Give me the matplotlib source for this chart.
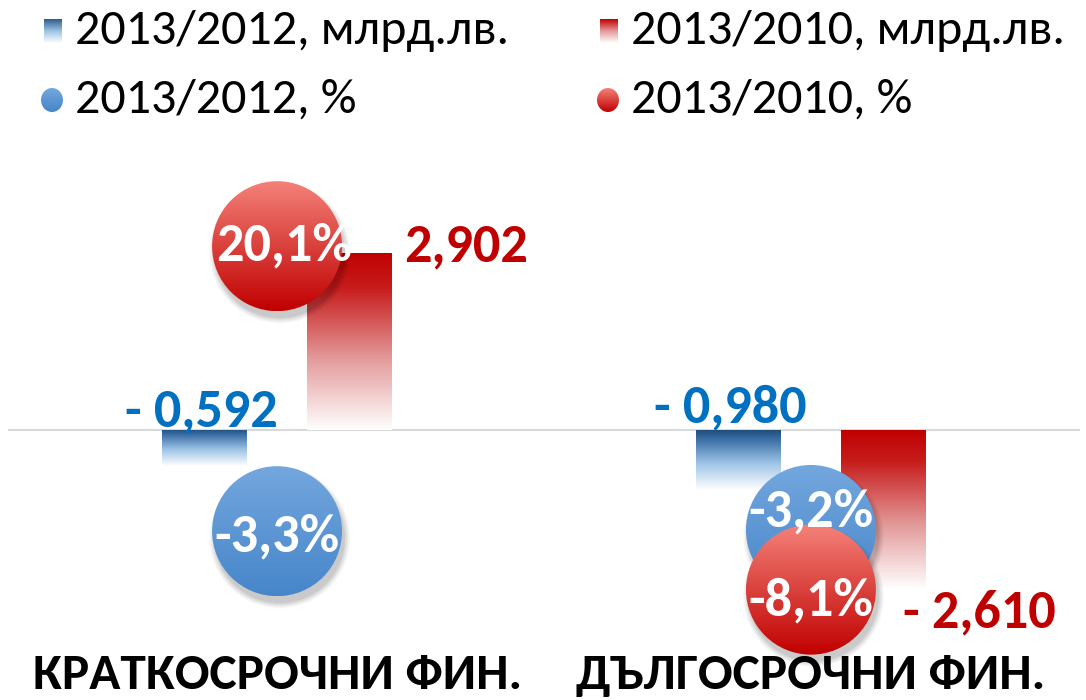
import numpy as np
import matplotlib
matplotlib.use("Agg")
import matplotlib.pyplot as plt
from matplotlib.colors import LinearSegmentedColormap
from matplotlib.patches import Ellipse, Rectangle

# ---------------- data ----------------
categories = ["КРАТКОСРОЧНИ ФИН.", "ДЪЛГОСРОЧНИ ФИН."]
series_bars = ["2013/2012, млрд.лв.", "2013/2010, млрд.лв."]
series_pct = ["2013/2012, %", "2013/2010, %"]
change_2012_bn = [-0.592, -0.980]
change_2010_bn = [2.902, -2.610]
change_2012_pct = [-3.3, -3.2]
change_2010_pct = [20.1, -8.1]

FONT = "Carlito"
plt.rcParams["font.family"] = [FONT, "DejaVu Sans"]

W, H = 1086, 700
fig = plt.figure(figsize=(W / 100, H / 100), dpi=100)

# main axes (bars)
ax = fig.add_axes([8 / W, 0, (1080 - 8) / W, 1])
ax.set_xlim(-0.504, 1.504)
ax.set_ylim(-4.426, 7.049)
ax.axis("off")
# secondary axes (bubbles, %)
ax2 = ax.twinx()
ax2.set_ylim(-17.16, 40.31)
ax2.axis("off")

ax.axhline(0, color="#D9D9D9", lw=1.5, zorder=1)

blue_bar_cmap = LinearSegmentedColormap.from_list(
    "bb", [(0, "#1F4E79"), (0.15, "#3A6EA5"), (0.55, "#9DC3E6"), (1, "#FFFFFF")])
red_bar_cmap = LinearSegmentedColormap.from_list(
    "rb", [(0, "#C00000"), (0.2, "#C71C1C"), (0.6, "#E39A9A"), (1, "#FFFFFF")])
blue_bub_cmap = LinearSegmentedColormap.from_list("bbub", ["#74A7DE", "#4686C9"])
red_bub_cmap = LinearSegmentedColormap.from_list("rbub", ["#F4837A", "#C00000"])

grad = np.linspace(0, 1, 256).reshape(-1, 1)

x = np.arange(len(categories))
bw = 0.159
off = 0.136


def gradient_bar(axis, xc, val, cmap, z=2):
    y0, y1 = min(0, val), max(0, val)
    rect = Rectangle((xc - bw / 2, y0), bw, y1 - y0, facecolor="none", edgecolor="none")
    axis.add_patch(rect)
    im = axis.imshow(grad, cmap=cmap, extent=[xc - bw / 2, xc + bw / 2, y0, y1],
                     origin="upper", aspect="auto", interpolation="bicubic", zorder=z)
    im.set_clip_path(rect)
    return rect


def fmt_bn(v):
    s = f"{abs(v):.3f}".replace(".", ",")
    return ("- " + s) if v < 0 else s


def fmt_pct(v):
    return f"{v:.1f}".replace(".", ",") + "%"


for i in x:
    gradient_bar(ax, i - off, change_2012_bn[i], blue_bar_cmap)
    gradient_bar(ax, i + off, change_2010_bn[i], red_bar_cmap)

# bar labels
blue_lbl_off = [(-2, 13), (-6, 16)]
for i in x:
    ax.annotate(fmt_bn(change_2012_bn[i]), (i - off, 0), xytext=blue_lbl_off[i],
                textcoords="offset points", ha="center", va="center",
                color="#0070C0", fontsize=39, fontweight="bold", zorder=6)
ax.annotate(fmt_bn(change_2010_bn[0]), (0 + off + bw / 2, change_2010_bn[0]),
            xytext=(9, 4), textcoords="offset points", ha="left", va="center",
            color="#C00000", fontsize=39, fontweight="bold", zorder=6)
ax.annotate(fmt_bn(change_2010_bn[1]), (1 + off, change_2010_bn[1]),
            xytext=(69, -17), textcoords="offset points", ha="center", va="center",
            color="#C00000", fontsize=39, fontweight="bold", zorder=6)

# bubbles
bub_w = 130 / 534
bub_h = 130 / 12.18


def bubble(axis, xc, yc, cmap, z):
    for k, a in enumerate([0.04, 0.05, 0.06, 0.07]):
        s = 1.08 - 0.025 * k
        sh = Ellipse((xc + 0.005, yc - 0.55), bub_w * s, bub_h * s,
                     facecolor="black", edgecolor="none", alpha=a, zorder=z - 0.5)
        axis.add_patch(sh)
    e = Ellipse((xc, yc), bub_w, bub_h, facecolor="none", edgecolor="none")
    axis.add_patch(e)
    im = axis.imshow(grad, cmap=cmap,
                     extent=[xc - bub_w / 2, xc + bub_w / 2, yc - bub_h / 2, yc + bub_h / 2],
                     origin="upper", aspect="auto", interpolation="bicubic", zorder=z)
    im.set_clip_path(e)


pct_lbl_off_2012 = [(0, -4), (0, 13)]
pct_lbl_off_2010 = [(5, 0), (0, -8)]
for i in x:
    bubble(ax2, i, change_2012_pct[i], blue_bub_cmap, 4)
for i in x:
    bubble(ax2, i, change_2010_pct[i], red_bub_cmap, 5)
for i in x:
    ax2.annotate(fmt_pct(change_2012_pct[i]), (i, change_2012_pct[i]), xytext=pct_lbl_off_2012[i],
                 textcoords="offset points", ha="center", va="center", color="white",
                 fontsize=39, fontweight="bold", zorder=7)
    ax2.annotate(fmt_pct(change_2010_pct[i]), (i, change_2010_pct[i]), xytext=pct_lbl_off_2010[i],
                 textcoords="offset points", ha="center", va="center", color="white",
                 fontsize=39, fontweight="bold", zorder=8)
ax2.set_xlim(-0.504, 1.504)

# category labels
for i in x:
    ax.annotate(categories[i], (i, 0.036), xycoords=("data", "axes fraction"),
                ha="center", va="center", fontsize=37, fontweight="bold", color="black")

# legend (drawn on an overlay in pixel coordinates)
lg = fig.add_axes([0, 0, 1, 1], zorder=10)
lg.set_xlim(0, W)
lg.set_ylim(H, 0)
lg.axis("off")
lg.patch.set_alpha(0)
leg_sq = LinearSegmentedColormap.from_list("lsq", ["#2E5C8A", "#9DC3E6", "#FFFFFF"])
leg_sr = LinearSegmentedColormap.from_list("lsr", ["#C00000", "#E39A9A", "#FFFFFF"])
items = [
    (series_bars[0], "sq", leg_sq, 40, 31),
    (series_bars[1], "sq", leg_sr, 596, 31),
    (series_pct[0], "ci", blue_bub_cmap, 40, 100),
    (series_pct[1], "ci", red_bub_cmap, 596, 100),
]
for label, kind, cm, x0, yc in items:
    if kind == "sq":
        r = Rectangle((x0 + 4, yc - 12), 18, 24, facecolor="none", edgecolor="none")
        lg.add_patch(r)
        im = lg.imshow(grad, cmap=cm, extent=[x0 + 4, x0 + 22, yc + 12, yc - 12],
                       origin="upper", aspect="auto", zorder=3)
        im.set_clip_path(r)
    else:
        c = Ellipse((x0 + 12, yc), 22, 24, facecolor="none", edgecolor="none")
        lg.add_patch(c)
        im = lg.imshow(grad, cmap=cm, extent=[x0 + 1, x0 + 23, yc + 12, yc - 12],
                       origin="upper", aspect="auto", zorder=3)
        im.set_clip_path(c)
    lg.text(x0 + 35, yc, label, ha="left", va="center", fontsize=36, color="black")

fig.savefig("out.png", dpi=100)
